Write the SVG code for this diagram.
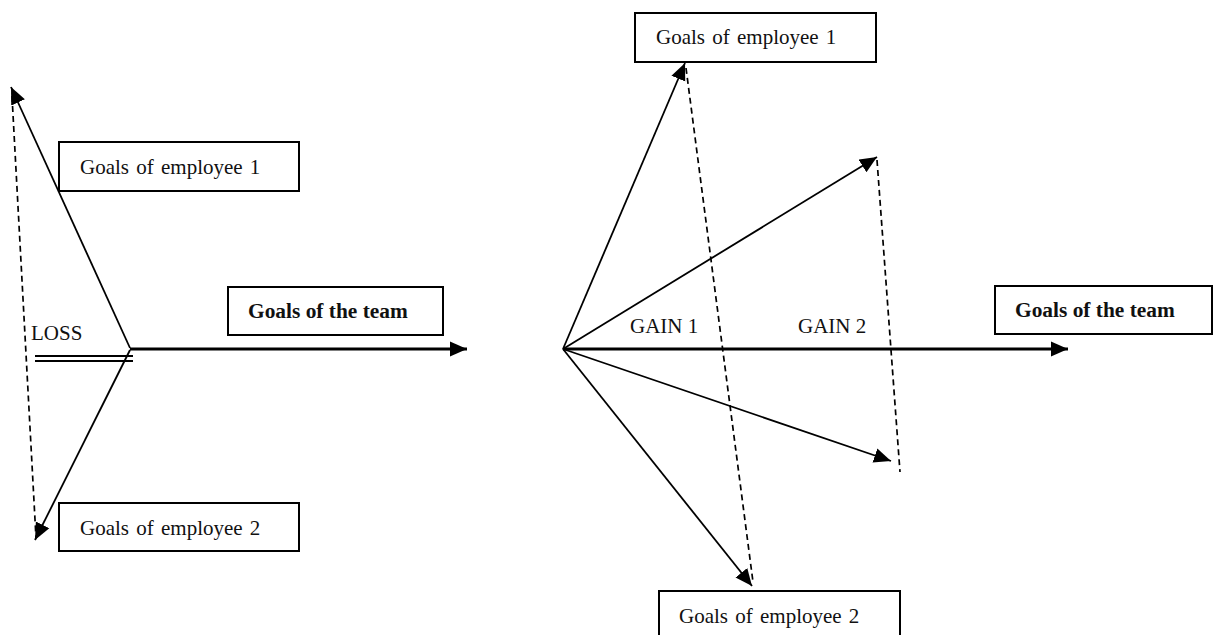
<svg xmlns="http://www.w3.org/2000/svg" width="1215" height="635" viewBox="0 0 1215 635">
<style>
.box{fill:#fff;stroke:#000;stroke-width:2}
.t{font-family:"Liberation Serif","Times New Roman",serif;font-size:21px;fill:#111}
.te{word-spacing:2px}
.tb{font-family:"Liberation Serif","Times New Roman",serif;font-size:21.4px;font-weight:bold;fill:#111}
.thin{stroke:#000;stroke-width:1.8;fill:none}
.thick{stroke:#000;stroke-width:3.2;fill:none}
.dash{stroke:#000;stroke-width:1.7;fill:none;stroke-dasharray:6 4}
</style>
<defs>
<marker id="ah" markerUnits="userSpaceOnUse" markerWidth="17" markerHeight="16" viewBox="0 0 17 15" refX="17" refY="7.5" orient="auto">
<path d="M0,0 L17,7.5 L0,15 Z" fill="#000"/>
</marker>
</defs>
<g id="connectors">
<line class="dash" x1="12" y1="96" x2="36" y2="538"/>
<line class="thin" x1="130" y1="348" x2="11" y2="87" marker-end="url(#ah)"/>
<line class="thin" x1="130" y1="350" x2="35" y2="540" marker-end="url(#ah)"/>
<line class="thick" x1="130" y1="349" x2="467" y2="349" marker-end="url(#ah)"/>
<line class="thin" x1="35" y1="356" x2="133" y2="356"/>
<line class="thin" x1="35" y1="361" x2="133" y2="361"/>
<line class="dash" x1="686" y1="68" x2="753" y2="582"/>
<line class="dash" x1="877" y1="160" x2="900" y2="472"/>
<line class="thin" x1="563" y1="349" x2="685" y2="63" marker-end="url(#ah)"/>
<line class="thin" x1="563" y1="349" x2="877" y2="157" marker-end="url(#ah)"/>
<line class="thin" x1="563" y1="349" x2="891" y2="461" marker-end="url(#ah)"/>
<line class="thin" x1="563" y1="349" x2="752" y2="586" marker-end="url(#ah)"/>
<line class="thick" x1="563" y1="349" x2="1068" y2="349" marker-end="url(#ah)"/>
</g>
<g id="left-employee1">
<rect class="box" x="59" y="142" width="240" height="49"/>
<text class="t te" x="80" y="174">Goals of employee 1</text>
</g>
<g id="left-employee2">
<rect class="box" x="59" y="503" width="240" height="48"/>
<text class="t te" x="80" y="535">Goals of employee 2</text>
</g>
<g id="left-team">
<rect class="box" x="228" y="287" width="215" height="48"/>
<text class="tb" x="248" y="318">Goals of the team</text>
</g>
<g id="loss-label">
<text class="t" x="31" y="340">LOSS</text>
</g>
<g id="right-employee1">
<rect class="box" x="635" y="13" width="241" height="49"/>
<text class="t te" x="656" y="44">Goals of employee 1</text>
</g>
<g id="right-employee2">
<rect class="box" x="659" y="591" width="241" height="50"/>
<text class="t te" x="679" y="623">Goals of employee 2</text>
</g>
<g id="right-team">
<rect class="box" x="995" y="286" width="217" height="48"/>
<text class="tb" x="1015" y="317">Goals of the team</text>
</g>
<g id="gain-labels">
<text class="t" x="630" y="333">GAIN 1</text>
<text class="t" x="798" y="333">GAIN 2</text>
</g>
</svg>
